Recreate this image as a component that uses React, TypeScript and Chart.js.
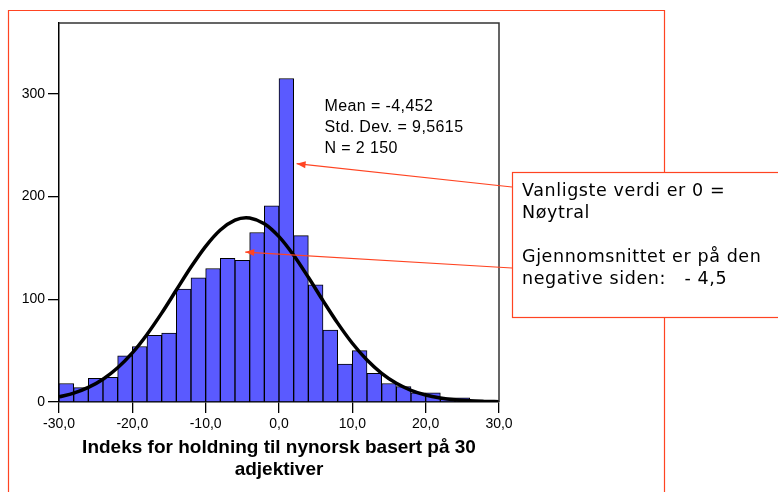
import React, { useEffect, useRef } from "react";
import { Chart, registerables } from "chart.js";

Chart.register(...registerables);

// Histogram bins (width 2), centres and counts
const binCenters = [-29, -27, -25, -23, -21, -19, -17, -15, -13, -11, -9, -7, -5, -3, -1, 1, 3, 5, 7, 9, 11, 13, 15, 17, 19, 21, 23, 25];
const binCounts = [18, 14, 23, 24, 45, 54, 65, 67, 110, 121, 130, 140, 138, 165, 191, 315, 162, 114, 70, 37, 50, 28, 18, 15, 9, 9, 4, 4];

// Normal curve
const curveX = [-30, -28, -26, -24, -22, -20, -18, -16, -14, -12, -10, -8, -6, -4.5, -4, -2, 0, 2, 4, 6, 8, 10, 12, 14, 16, 18, 20, 22, 24, 26, 28, 30];
const curveY = [5, 8.6, 14.2, 22.2, 33.3, 47.8, 65.8, 86.5, 109, 131.4, 151.6, 167.5, 177.1, 179.4, 179.2, 173.6, 161, 142.9, 121.4, 98.7, 76.8, 57.2, 40.8, 27.9, 18.2, 11.4, 6.8, 3.9, 2.1, 1.1, 0.6, 0.3];

const xTickValues = [-30, -20, -10, 0, 10, 20, 30];
const xTickLabels = ["-30,0", "-20,0", "-10,0", "0,0", "10,0", "20,0", "30,0"];
const yTickValues = [0, 100, 200, 300];

const xTitle = ["Indeks for holdning til nynorsk basert på 30", "adjektiver"];
const statsLines = ["Mean = -4,452", "Std. Dev. = 9,5615", "N = 2 150"];
const noteLines = ["Vanligste verdi er 0 =", "Nøytral", "", "Gjennomsnittet er på den", "negative siden:   - 4,5"];

const RED = "#ff4422";

function arrow(ctx: CanvasRenderingContext2D, x1: number, y1: number, x2: number, y2: number) {
  ctx.save();
  ctx.strokeStyle = RED;
  ctx.fillStyle = RED;
  ctx.lineWidth = 1.2;
  ctx.beginPath();
  ctx.moveTo(x1, y1);
  ctx.lineTo(x2, y2);
  ctx.stroke();
  const a = Math.atan2(y2 - y1, x2 - x1);
  const L = 9, W = 3.5;
  ctx.beginPath();
  ctx.moveTo(x2, y2);
  ctx.lineTo(x2 - L * Math.cos(a) + W * Math.sin(a), y2 - L * Math.sin(a) - W * Math.cos(a));
  ctx.lineTo(x2 - L * Math.cos(a) - W * Math.sin(a), y2 - L * Math.sin(a) + W * Math.cos(a));
  ctx.closePath();
  ctx.fill();
  ctx.restore();
}

const decorPlugin = {
  id: "decor",
  afterDraw(chart: any) {
    const { ctx, chartArea, scales } = chart;
    const xs = scales.x, ys = scales.y;
    ctx.save();
    // frame top/right
    ctx.strokeStyle = "#333";
    ctx.lineWidth = 1.5;
    ctx.beginPath();
    ctx.moveTo(chartArea.left, chartArea.top);
    ctx.lineTo(chartArea.right, chartArea.top);
    ctx.lineTo(chartArea.right, chartArea.bottom);
    ctx.stroke();

    // x axis title
    ctx.fillStyle = "#000";
    ctx.font = "bold 19px 'Liberation Sans', Arial, sans-serif";
    ctx.textAlign = "center";
    ctx.textBaseline = "middle";
    const cx = (chartArea.left + chartArea.right) / 2;
    ctx.fillText(xTitle[0], cx, chartArea.bottom + 46);
    ctx.fillText(xTitle[1], cx, chartArea.bottom + 68);

    // stats text
    ctx.font = "16px 'Liberation Sans', Arial, sans-serif";
    (ctx as any).letterSpacing = "0.4px";
    ctx.textAlign = "left";
    const sx = xs.getPixelForValue(6.2);
    const sy = ys.getPixelForValue(288);
    statsLines.forEach((t, i) => ctx.fillText(t, sx, sy + i * 21));
    (ctx as any).letterSpacing = "0px";

    // outer red frame
    ctx.strokeStyle = RED;
    ctx.lineWidth = 1.2;
    ctx.beginPath();
    ctx.moveTo(8.5, 492);
    ctx.lineTo(8.5, 10.5);
    ctx.lineTo(664.5, 10.5);
    ctx.lineTo(664.5, 172);
    ctx.moveTo(664.5, 317);
    ctx.lineTo(664.5, 492);
    ctx.stroke();

    // note box
    ctx.fillStyle = "#fff";
    ctx.fillRect(512.5, 172.5, 290, 145);
    ctx.strokeRect(512.5, 172.5, 290, 145);
    ctx.fillStyle = "#000";
    ctx.font = "17.5px 'DejaVu Sans', Verdana, sans-serif";
    (ctx as any).letterSpacing = "0.6px";
    ctx.textBaseline = "middle";
    noteLines.forEach((t, i) => { if (t) ctx.fillText(t, 522, 191 + i * 22.2); });
    (ctx as any).letterSpacing = "0px";

    // arrows
    arrow(ctx, 512, 187, xs.getPixelForValue(2.4), ys.getPixelForValue(232));
    arrow(ctx, 512, 268, xs.getPixelForValue(-4.6), ys.getPixelForValue(146));
    ctx.restore();
  },
};

export default function App() {
  const ref = useRef<HTMLCanvasElement | null>(null);
  useEffect(() => {
    if (!ref.current) return;
    const tickFont = { family: "'Liberation Sans', Arial, sans-serif", size: 14 };
    const chart = new Chart(ref.current, {
      type: "bar",
      data: {
        datasets: [
          {
            type: "line",
            data: curveX.map((x, i) => ({ x, y: curveY[i] })),
            borderColor: "#000",
            borderWidth: 3.5,
            pointRadius: 0,
            cubicInterpolationMode: "monotone",
            order: 0,
          } as any,
          {
            type: "bar",
            data: binCenters.map((x, i) => ({ x, y: binCounts[i] })),
            backgroundColor: "#5a5aff",
            borderColor: "#000",
            borderWidth: 1,
            barPercentage: 1,
            categoryPercentage: 1,
            order: 1,
          } as any,
        ],
      },
      options: {
        animation: false,
        responsive: false,
        devicePixelRatio: 1,
        layout: { padding: { left: 19, right: 279, top: 23, bottom: 60 } },
        plugins: { legend: { display: false }, tooltip: { enabled: false } },
        scales: {
          x: {
            type: "linear",
            min: -30,
            max: 30,
            offset: false,
            afterBuildTicks: (s: any) => { s.ticks = xTickValues.map((v) => ({ value: v })); },
            afterFit: (s: any) => { s.height = 30; },
            ticks: {
              callback: (_v: any, i: number) => xTickLabels[i],
              font: tickFont,
              color: "#000",
              padding: 3,
              maxRotation: 0,
              autoSkip: false,
            },
            grid: { drawOnChartArea: false, drawTicks: true, tickLength: 11, color: "#000", tickColor: "#000", offset: false, lineWidth: 1.3 },
            border: { display: true, color: "#000", width: 1.5 },
          },
          y: {
            type: "linear",
            min: 0,
            max: 369,
            afterBuildTicks: (s: any) => { s.ticks = yTickValues.map((v) => ({ value: v })); },
            afterFit: (s: any) => { s.width = 40; },
            ticks: { font: tickFont, color: "#000", padding: 3 },
            grid: { drawOnChartArea: false, drawTicks: true, tickLength: 11, color: "#000", tickColor: "#000", lineWidth: 1.3 },
            border: { display: true, color: "#000", width: 1.5 },
          },
        },
      } as any,
      plugins: [decorPlugin],
    });
    return () => chart.destroy();
  }, []);
  return (
    <div style={{ position: "absolute", left: 0, top: 0, width: 778, height: 492, background: "#fff" }}>
      <canvas ref={ref} width={778} height={492} style={{ display: "block", width: 778, height: 492 }} />
    </div>
  );
}
